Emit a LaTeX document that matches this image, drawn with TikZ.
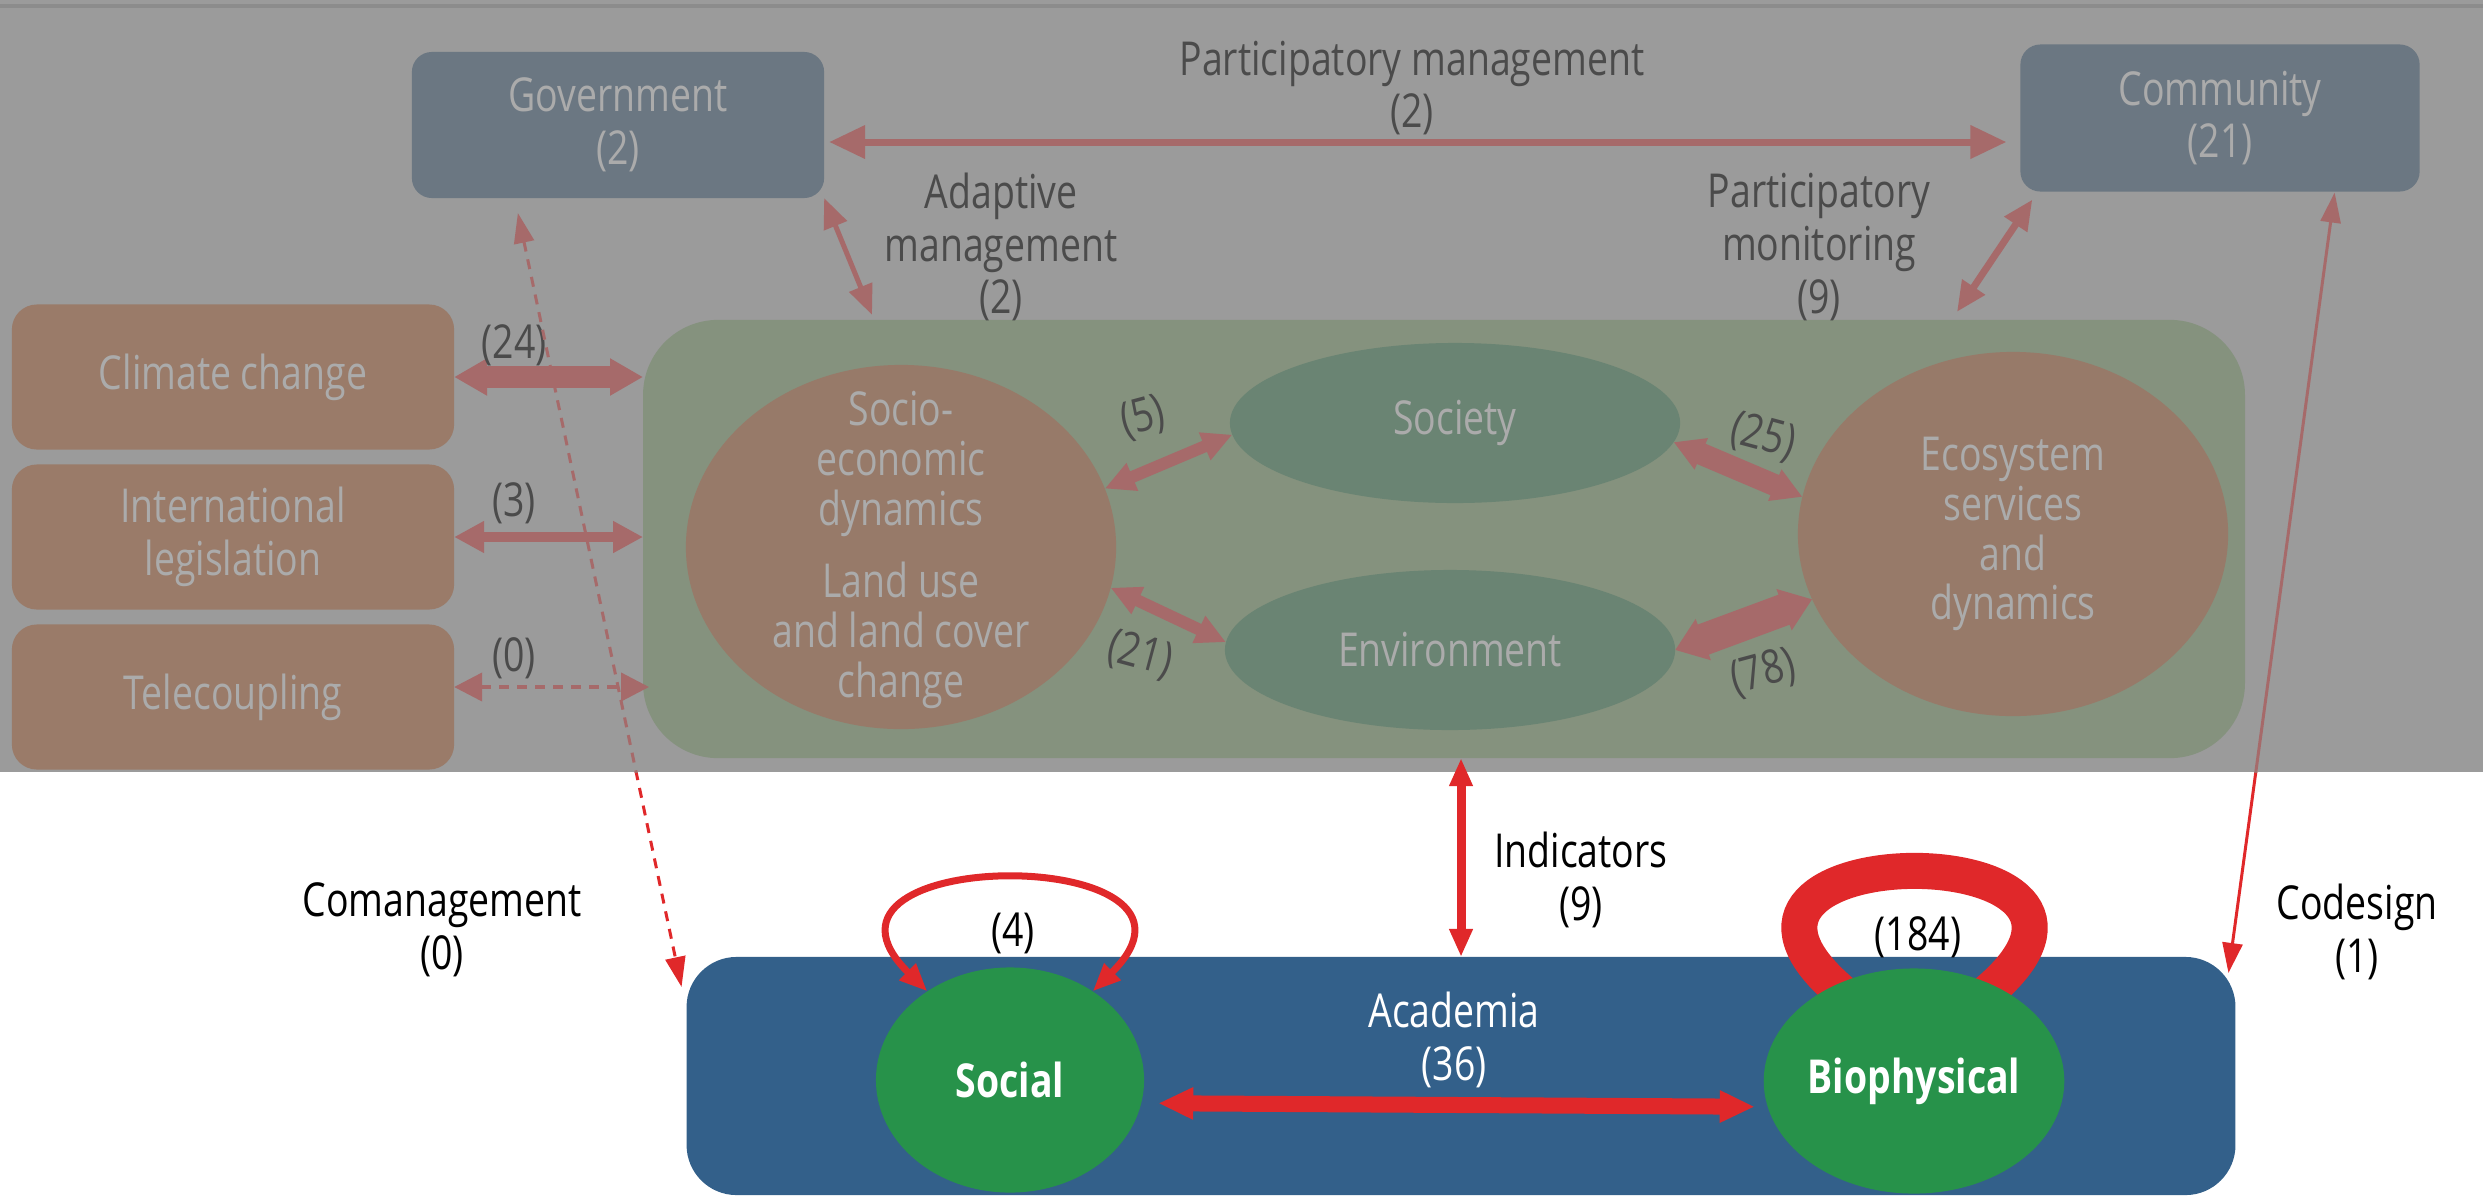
\documentclass[tikz,border=0pt]{standalone}
\usepackage{fontspec}
\setmainfont{Open Sans}[FakeStretch=0.8]
\usetikzlibrary{arrows.meta,shapes.geometric}

\definecolor{bgfade}{HTML}{9B9B9B}
\definecolor{topline}{HTML}{8C8C8C}
\definecolor{govfade}{HTML}{6B7782}
\definecolor{drvfade}{HTML}{9A7B69}
\definecolor{contfade}{HTML}{85927E}
\definecolor{orgfade}{HTML}{977A69}
\definecolor{grnfade}{HTML}{6A8473}
\definecolor{redfade}{HTML}{A66A6A}
\definecolor{txtfade}{HTML}{ABABAB}
\definecolor{lblfade}{HTML}{4B4B4B}
\definecolor{redvivid}{HTML}{E0282A}
\definecolor{acadblue}{HTML}{33608A}
\definecolor{grnvivid}{HTML}{27924A}

\begin{document}
\begin{tikzpicture}[x=0.01cm, y=-0.01cm,
    every node/.style = {align=center, inner sep=0pt, outer sep=0pt,
      font=\fontsize{13.3}{15}\selectfont},
    actor/.style={rectangle, rounded corners=0.2cm, fill=govfade, text=txtfade,
      minimum width=4.12cm, minimum height=1.46cm},
    driver/.style={rectangle, rounded corners=0.25cm, fill=drvfade, text=txtfade,
      minimum width=4.42cm, minimum height=1.45cm},
    proc_orange/.style={ellipse, fill=orgfade, text=txtfade,
      font=\fontsize{13.3}{14.2}\selectfont,
      minimum width=4.3cm, minimum height=3.64cm},
    proc_green/.style={ellipse, fill=grnfade, text=txtfade,
      minimum width=4.5cm, minimum height=1.6cm},
    science/.style={ellipse, fill=grnvivid, text=white,
      font=\fontsize{13.3}{15}\selectfont\bfseries,
      minimum width=2.68cm, minimum height=2.25cm},
    cap_fade/.style={text=lblfade},
    link/.style n args={3}{line width=#1,
      {Triangle[length=#2, width=#3]}-{Triangle[length=#2, width=#3]}},
    dash_link/.style={dash pattern=on 0.1cm off 0.08cm},
  ]

  \useasboundingbox (0,0) rectangle (2483,1203);

  % faded upper panel
  \fill[bgfade] (0,0) rectangle (2483,772);
  \draw[line width=0.04cm, topline] (0,6) -- (2483,6);

  % actors
  \node[actor] (gov) at (618,125) {Government\\(2)};
  \node[actor, minimum width=3.99cm, minimum height=1.47cm] (comm) at (2220,118) {Community\\(21)};

  % drivers
  \node[driver] (climate) at (233,377) {Climate change};
  \node[driver] (intl) at (233,537) {International\\legislation};
  \node[driver] (tele) at (233,697) {Telecoupling};

  % social-ecological system
  \node[rectangle, rounded corners=0.75cm, fill=contfade,
    minimum width=16.01cm, minimum height=4.38cm] (cont) at (1444,539) {};
  \node[proc_orange] (socio) at (901,547) {};
  \node[text=txtfade, font=\fontsize{13.3}{14.2}\selectfont] (socio_txt) at (901,550)
    {Socio-\\economic\\dynamics\\[0.22cm]Land use\\and land cover\\change};
  \node[proc_green] (society) at (1455,423) {Society};
  \node[proc_green] (env) at (1450,650) {Environment};
  \node[proc_orange] (eco) at (2013,534) {Ecosystem\\services\\and\\dynamics};

  % faded links
  \coordinate (pm_left) at ([yshift=-0.17cm]gov.east);
  \draw[redfade, link={0.07cm}{0.36cm}{0.32cm}, shorten <=0.05cm, shorten >=0.14cm]
    (pm_left) -- (pm_left -| comm.west);
  \draw[redfade, link={0.05cm}{0.3cm}{0.24cm}]
    (gov.south east) -- ([shift={(229,-5)}]cont.north west);
  \draw[redfade, link={0.07cm}{0.3cm}{0.26cm}]
    ([shift={(12,8)}]comm.south west) -- ([shift={(-288,-8)}]cont.north east);
  \draw[redfade, link={0.22cm}{0.33cm}{0.35cm}] (climate.east) -- (climate.east -| cont.west);
  \draw[redfade, link={0.1cm}{0.3cm}{0.3cm}] (intl.east) -- (intl.east -| cont.west);
  \coordinate (tele_r) at ([yshift=0.1cm]tele.east);
  \draw[redfade, dash_link, link={0.04cm}{0.28cm}{0.28cm}, shorten >=-0.06cm]
    (tele_r) -- (tele_r -| cont.west);
  \draw[redfade, link={0.12cm}{0.3cm}{0.28cm}] (socio.16) -- (society.183);
  \draw[redfade, link={0.12cm}{0.3cm}{0.28cm}] (socio.-11) -- (env.178);
  \draw[redfade, link={0.22cm}{0.3cm}{0.32cm}] (society.-5) -- (eco.170);
  \draw[redfade, link={0.32cm}{0.3cm}{0.42cm}] (env.0) -- (eco.198);

  % faded labels
  \node[cap_fade] (pm_lbl) at (1412,88) {Participatory management\\(2)};
  \node[cap_fade] (am_lbl) at (1001,247) {Adaptive\\management\\(2)};
  \node[cap_fade] (pmon_lbl) at (1819,247) {Participatory\\monitoring\\(9)};
  \node[cap_fade] (l24) at (514,345) {(24)};
  \node[cap_fade] (l3) at (514,503) {(3)};
  \node[cap_fade] (l0) at (514,658) {(0)};
  \node[cap_fade, rotate=15] (l5) at (1143,418) {(5)};
  \node[cap_fade, rotate=-15] (l21) at (1140,655) {(21)};
  \node[cap_fade, rotate=-15] (l25) at (1763,437) {(25)};
  \node[cap_fade, rotate=15] (l78) at (1763,673) {(78)};

  % academia
  \node[rectangle, rounded corners=0.5cm, fill=acadblue,
    minimum width=15.48cm, minimum height=2.38cm] (acad) at (1461,1076) {};
  \node[text=white] (acad_txt) at (1454,1040) {Academia\\(36)};
  \draw[redvivid, line width=0.36cm, shorten <=-0.15cm, shorten >=-0.15cm]
    (1835,987) .. controls +(-195,-158) and +(195,-158) .. (1994,987);
  \node[science] (social) at (1010,1080) {Social};
  \node[science] (bio) at (1914,1081) {Biophysical};

  \draw[redvivid, link={0.09cm}{0.28cm}{0.22cm}] (acad.north |- cont.south) -- (acad.north);
  \draw[redvivid, link={0.16cm}{0.35cm}{0.3cm}, shorten <=0.17cm, shorten >=0.13cm]
    (social.-10) -- (bio.190);
  \draw[redvivid, link={0.07cm}{0.28cm}{0.22cm}]
    (social.133) .. controls +(-150,-148) and +(150,-148) .. (social.47);

  % links crossing the faded panel
  \coordinate (coman_top) at ([shift={(106,15)}]gov.south west);
  \coordinate (coman_bot) at ([shift={(-5,30)}]acad.north west);
  \coordinate (codes_top) at ([shift={(-85,1)}]comm.south east);
  \coordinate (codes_bot) at ([shift={(-7,16)}]acad.north east);
  \begin{scope}
    \clip (0,772) rectangle (2483,1203);
    \draw[redvivid, dash_link, link={0.03cm}{0.3cm}{0.2cm}] (coman_top) -- (coman_bot);
    \draw[redvivid, link={0.03cm}{0.3cm}{0.2cm}] (codes_top) -- (codes_bot);
  \end{scope}
  \begin{scope}
    \clip (0,0) rectangle (2483,772);
    \draw[redfade, dash_link, link={0.03cm}{0.3cm}{0.2cm}] (coman_top) -- (coman_bot);
    \draw[redfade, link={0.03cm}{0.3cm}{0.2cm}] (codes_top) -- (codes_bot);
  \end{scope}

  % labels
  \node (ind_lbl) at (1581,880) {Indicators\\(9)};
  \node (codes_lbl) at (2357,932) {Codesign\\(1)};
  \node (coman_lbl) at (442,930) {Comanagement\\(0)};
  \node (l4) at (1013,933) {(4)};
  \node (l184) at (1918,937) {(184)};

\end{tikzpicture}
\end{document}
